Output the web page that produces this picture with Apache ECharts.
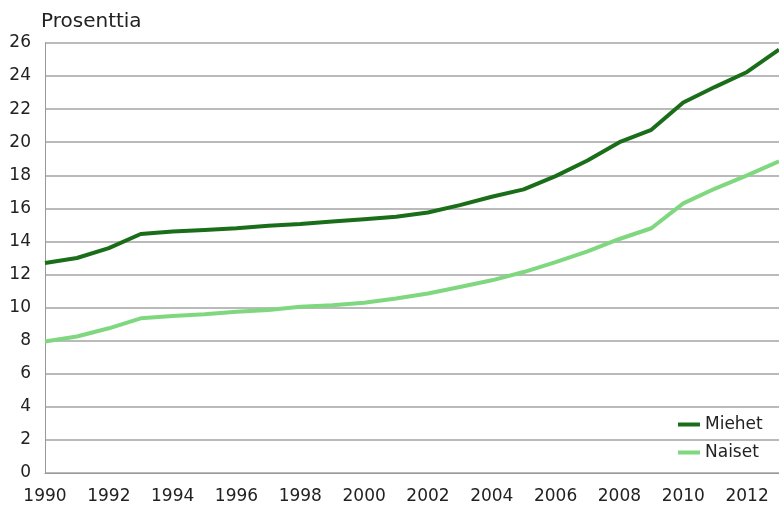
<!DOCTYPE html>
<html>
<head>
<meta charset="utf-8">
<script src="https://cdn.jsdelivr.net/npm/echarts@6/dist/echarts.min.js"></script>
<style>
html,body{margin:0;padding:0;background:#fff;}
#chart{width:779px;height:506px;}
</style>
</head>
<body>
<div id="chart"></div>
<script>
var years = [1990,1991,1992,1993,1994,1995,1996,1997,1998,1999,2000,2001,2002,2003,2004,2005,2006,2007,2008,2009,2010,2011,2012,2013];
var miehet = [12.7,13.0,13.6,14.45,14.6,14.7,14.8,14.95,15.05,15.2,15.35,15.5,15.75,16.2,16.7,17.15,17.95,18.9,20.0,20.75,22.4,23.35,24.25,25.6];
var naiset = [7.95,8.25,8.75,9.35,9.5,9.6,9.75,9.85,10.05,10.15,10.3,10.55,10.85,11.25,11.65,12.15,12.75,13.4,14.15,14.8,16.3,17.2,18.0,18.85];
var seriesNames = ['Miehet','Naiset'];
var yTicks = {min:0, max:26, interval:2};
var unitLabel = 'Prosenttia';

function pairs(vals){ return years.map(function(y,i){ return [y, vals[i]]; }); }

var font = 'DejaVu Sans';
var chart = echarts.init(document.getElementById('chart'));
chart.setOption({
  animation:false,
  backgroundColor:'#ffffff',
  title:{text:unitLabel,left:41,top:12,padding:0,textStyle:{fontFamily:font,fontSize:20,fontWeight:'normal',color:'#222'}},
  grid:{left:45,top:43,height:430,width:741,containLabel:false},
  legend:{
    orient:'vertical',left:678,top:416,padding:0,icon:'rect',itemWidth:22,itemHeight:4,itemGap:11,
    textStyle:{fontFamily:font,fontSize:17,color:'#222'},
    data:seriesNames
  },
  xAxis:{
    type:'value',min:1990,max:2013,interval:2,
    axisLine:{show:true,lineStyle:{color:'#999',width:1}},
    axisTick:{show:false},
    splitLine:{show:false},
    axisLabel:{showMaxLabel:false,margin:15,fontFamily:font,fontSize:17,color:'#222',formatter:function(v){return String(v);}}
  },
  yAxis:{
    type:'value',min:yTicks.min,max:yTicks.max,interval:yTicks.interval,
    axisLine:{show:true,lineStyle:{color:'#999',width:1}},
    axisTick:{show:false},
    splitLine:{show:true,lineStyle:{color:'#a3a3a3',width:1.5}},
    axisLabel:{margin:14,fontFamily:font,fontSize:17,color:'#222'}
  },
  series:[
    {name:seriesNames[0],type:'line',data:pairs(miehet),showSymbol:false,symbol:'none',lineStyle:{color:'#1a6e1a',width:4},itemStyle:{color:'#1a6e1a'}},
    {name:seriesNames[1],type:'line',data:pairs(naiset),showSymbol:false,symbol:'none',lineStyle:{color:'#7fd87f',width:4},itemStyle:{color:'#7fd87f'}}
  ]
});
</script>
</body>
</html>
